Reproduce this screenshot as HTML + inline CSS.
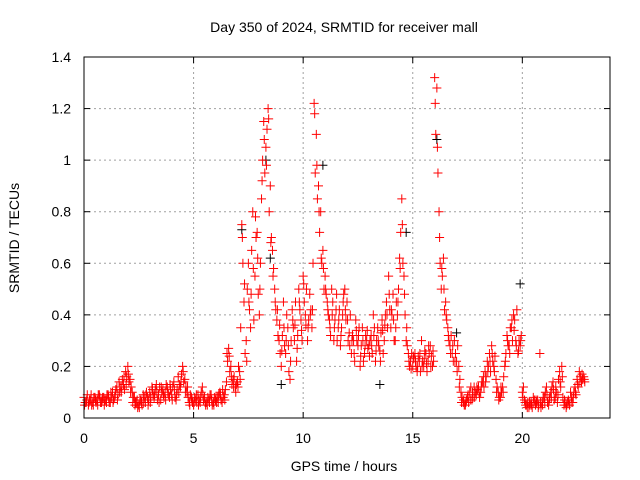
<!DOCTYPE html>
<html><head><meta charset="utf-8"><style>
body{margin:0;background:#fff;}
svg{display:block;font-family:"Liberation Sans",sans-serif;}
</style></head><body>
<svg id="chart" width="640" height="480" viewBox="0 0 640 480">
<text x="344" y="32" font-size="14" text-anchor="middle" fill="#000">Day 350 of 2024, SRMTID for receiver mall</text>
<text x="344" y="471" font-size="14" text-anchor="middle" fill="#000">GPS time / hours</text>
<text transform="translate(19,238) rotate(-90)" font-size="14" text-anchor="middle" fill="#000">SRMTID / TECUs</text>
<g id="grid"></g><g id="marks"></g><g id="axes"></g>
</svg>
<script>
const xTicks=[0,5,10,15,20];
const yTicks=[0,0.2,0.4,0.6,0.8,1,1.2,1.4];
const yTickLabels=["0","0.2","0.4","0.6","0.8","1","1.2","1.4"];
const startHour=0, stepHour=0.1;
const redA=[0.08,0.06,0.05,0.07,0.06,0.08,0.07,0.09,0.06,0.08,
0.07,0.09,0.06,0.10,0.08,0.12,0.14,0.10,0.13,0.18,
0.20,0.15,0.10,0.08,0.06,0.05,0.07,0.09,0.06,0.08,
0.10,0.12,0.08,0.13,0.09,0.07,0.11,0.10,0.12,0.08,
0.09,0.14,0.07,0.16,0.12,0.20,0.15,0.10,0.06,0.08,
0.05,0.07,0.09,0.06,0.12,0.08,0.06,0.07,0.09,0.06,
0.07,0.08,0.10,0.06,0.09,0.14,0.27,0.20,0.15,0.12,
0.14,0.18,0.75,0.45,0.30,0.60,0.35,0.80,0.55,0.72,
0.40,0.85,1.15,1.05,1.20,0.90,0.65,0.50,0.38,0.30,
0.20,0.45,0.25,0.35,0.15,0.42,0.30,0.22,0.50,0.38,
0.55,0.40,0.30,0.48,0.35,1.22,1.10,0.90,0.80,0.65,
0.55,0.45,0.38,0.50,0.30,0.42,0.35,0.28,0.40,0.50,
0.45,0.33,0.25,0.30,0.38,0.28,0.20,0.35,0.25,0.30,
0.28,0.32,0.40,0.22,0.35,0.26,0.38,0.30,0.45,0.55,
0.35,0.48,0.30,0.40,0.62,0.85,0.55,0.30,0.25,0.22,
0.20,0.25,0.18,0.22,0.30,0.20,0.25,0.22,0.28,0.20,
1.32,1.28,0.80,0.50,0.62,0.45,0.35,0.28,0.25,0.30,
0.22,0.20,0.10,0.06,0.05,0.08,0.10,0.07,0.12,0.09,
0.12,0.10,0.14,0.18,0.22,0.25,0.28,0.20,0.15,0.10,
0.08,0.12,0.20,0.32,0.28,0.35,0.40,0.30,0.25,0.28,
0.10,0.07,0.05,0.04,0.06,0.08,0.05,0.07,0.25,0.06,
0.08,0.12,0.05,0.10,0.14,0.08,0.06,0.18,0.20,0.05,
0.04,0.07,0.10,0.06,0.12,0.15,0.18,0.14,0.16];
const redB=[0.06,0.09,0.07,0.05,0.08,0.06,0.09,0.06,0.08,0.07,
0.09,0.06,0.08,0.07,0.11,0.09,0.12,0.15,0.11,0.16,
0.14,0.12,0.08,0.06,0.04,0.07,0.05,0.08,0.10,0.07,
0.08,0.09,0.11,0.07,0.12,0.10,0.08,0.13,0.09,0.11,
0.12,0.08,0.11,0.13,0.17,0.14,0.12,0.08,0.09,0.06,
0.08,0.06,0.07,0.10,0.07,0.05,0.08,0.09,0.05,0.08,
0.06,0.09,0.07,0.08,0.11,0.22,0.18,0.13,0.16,0.13,
0.20,0.35,0.60,0.25,0.50,0.42,0.65,0.38,0.70,0.48,
0.60,1.00,0.95,1.12,0.80,0.70,0.58,0.42,0.32,0.25,
0.32,0.28,0.40,0.18,0.30,0.35,0.45,0.32,0.42,0.30,
0.45,0.50,0.38,0.42,0.60,0.95,0.85,0.72,0.60,0.50,
0.48,0.40,0.32,0.45,0.38,0.30,0.42,0.35,0.48,0.38,
0.30,0.40,0.32,0.22,0.30,0.35,0.28,0.22,0.32,0.27,
0.30,0.25,0.35,0.30,0.28,0.33,0.25,0.40,0.35,0.42,
0.40,0.30,0.45,0.50,0.72,0.60,0.40,0.28,0.20,0.25,
0.23,0.20,0.24,0.18,0.22,0.26,0.18,0.25,0.24,0.22,
1.10,0.95,0.60,0.55,0.42,0.38,0.30,0.32,0.22,0.25,
0.28,0.15,0.08,0.05,0.07,0.06,0.12,0.08,0.10,0.11,
0.08,0.14,0.12,0.16,0.20,0.18,0.22,0.24,0.12,0.08,
0.10,0.16,0.25,0.28,0.35,0.30,0.38,0.42,0.30,0.32,
0.12,0.05,0.06,0.05,0.04,0.07,0.06,0.05,0.04,0.08,
0.10,0.06,0.08,0.12,0.07,0.10,0.15,0.12,0.08,0.06,
0.06,0.05,0.08,0.10,0.09,0.12,0.16,0.15,0.14];
const redC=[0.05,0.07,0.06,0.09,0.05,0.07,0.05,0.08,0.07,0.05,
0.06,0.08,0.10,0.06,0.09,0.07,0.10,0.12,0.16,0.13,
0.17,0.10,0.06,0.05,0.07,0.04,0.06,0.06,0.09,0.05,
0.06,0.11,0.09,0.10,0.06,0.12,0.09,0.07,0.10,0.13,
0.07,0.11,0.09,0.10,0.14,0.18,0.10,0.12,0.05,0.07,
0.06,0.09,0.05,0.08,0.09,0.06,0.05,0.06,0.07,0.05,
0.08,0.06,0.09,0.11,0.07,0.25,0.24,0.16,0.12,0.10,
0.12,0.15,0.70,0.52,0.22,0.45,0.48,0.58,0.78,0.62,
0.50,0.92,1.08,0.98,1.16,0.68,0.55,0.45,0.42,0.36,
0.26,0.35,0.30,0.28,0.22,0.38,0.36,0.27,0.45,0.34,
0.52,0.36,0.35,0.40,0.42,1.18,0.98,0.80,0.62,0.58,
0.50,0.42,0.35,0.40,0.35,0.48,0.38,0.32,0.45,0.42,
0.38,0.28,0.30,0.25,0.34,0.32,0.24,0.30,0.28,0.34,
0.24,0.28,0.32,0.26,0.30,0.22,0.34,0.36,0.40,0.48,
0.42,0.38,0.35,0.45,0.58,0.75,0.48,0.35,0.22,0.19,
0.24,0.22,0.20,0.25,0.20,0.23,0.21,0.28,0.20,0.26,
1.22,1.05,0.70,0.58,0.50,0.40,0.32,0.25,0.28,0.22,
0.18,0.12,0.06,0.07,0.06,0.09,0.07,0.10,0.08,0.12,
0.10,0.12,0.16,0.14,0.18,0.22,0.25,0.18,0.10,0.07,
0.12,0.10,0.22,0.30,0.25,0.38,0.34,0.28,0.26,0.30,
0.08,0.06,0.04,0.06,0.05,0.06,0.07,0.04,0.06,0.05,
0.06,0.09,0.07,0.08,0.11,0.12,0.09,0.14,0.16,0.07,
0.05,0.06,0.06,0.08,0.10,0.13,0.14,0.17,0.15];
const blackT=[8.3,7.2,10.9,14.7,16.1,19.9,9.0,13.5,17.0,8.5];
const blackV=[1.0,0.73,0.98,0.72,1.08,0.52,0.13,0.13,0.33,0.62];

const L=84,R=610,T=57,B=418,XMAX=24,YMAX=1.4;
const xs=v=>L+(v/XMAX)*(R-L);
const ys=v=>B-(v/YMAX)*(B-T);
const NS='http://www.w3.org/2000/svg';
function mk(tag,attrs,parent){const e=document.createElementNS(NS,tag);for(const k in attrs)e.setAttribute(k,attrs[k]);parent.appendChild(e);return e;}
const grid=document.getElementById('grid'),axes=document.getElementById('axes'),marks=document.getElementById('marks');
xTicks.forEach(t=>{
  const x=xs(t);
  if(t>0){const g=mk('line',{x1:x,x2:x,y1:T,y2:B,stroke:'#a0a0a0','stroke-dasharray':'2,3'},grid);
  
  }
  mk('line',{x1:x,x2:x,y1:B,y2:B-6,stroke:'#000'},axes);
  mk('line',{x1:x,x2:x,y1:T,y2:T+6,stroke:'#000'},axes);
  const tx=mk('text',{x:x,y:443,'font-size':14,'text-anchor':'middle'},axes);tx.textContent=t;
  
  
});
yTicks.forEach((t,i)=>{
  const y=ys(t);
  if(t>0&&t<YMAX){const g=mk('line',{x1:L,x2:R,y1:y,y2:y,stroke:'#a0a0a0','stroke-dasharray':'2,3'},grid);
  
  }
  mk('line',{x1:L,x2:L+6,y1:y,y2:y,stroke:'#000'},axes);
  mk('line',{x1:R,x2:R-6,y1:y,y2:y,stroke:'#000'},axes);
  const tx=mk('text',{x:71,y:y+5,'font-size':14,'text-anchor':'end'},axes);tx.textContent=yTickLabels[i];
  
  
});
const fr=mk('rect',{x:L,y:T,width:R-L,height:B-T,fill:'none',stroke:'#000'},axes);


function plus(t,v){const x=xs(t),y=ys(v);return `M${x-4.5},${y}h9M${x},${y-4.5}v9`;}
let dk='';blackT.forEach((t,i)=>{dk+=plus(t,blackV[i]);});
const pk=mk('path',{d:dk,stroke:'#000',fill:'none','stroke-width':1},marks);


let dr='';
redA.forEach((v,i)=>{dr+=plus(startHour+i*stepHour,v);});
redB.forEach((v,i)=>{dr+=plus(startHour+i*stepHour+stepHour/2,v);});
redC.forEach((v,i)=>{dr+=plus(startHour+i*stepHour+stepHour/4,v);});
const pr=mk('path',{d:dr,stroke:'#ff0000',fill:'none','stroke-width':1},marks);


</script>
</body></html>
